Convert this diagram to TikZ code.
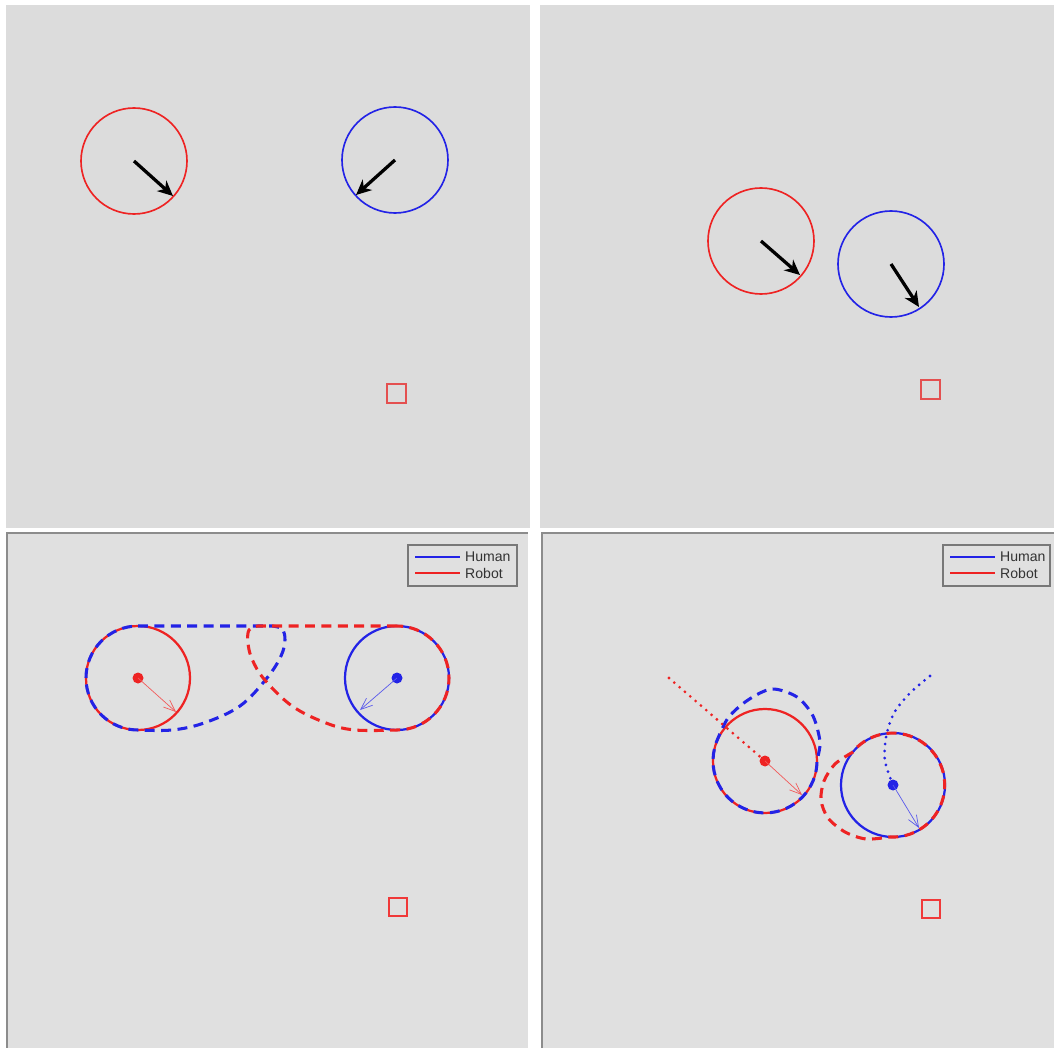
\documentclass[tikz,border=0pt]{standalone}
\usepackage{fontspec}
\setmainfont{Liberation Sans}
\usepackage{xcolor}
\definecolor{simbg}{RGB}{220,220,220}
\definecolor{plotbg}{RGB}{224,224,224}
\definecolor{framegray}{RGB}{140,140,140}
\definecolor{legendgray}{RGB}{120,120,120}
\definecolor{humanblue}{RGB}{35,35,230}
\definecolor{robotred}{RGB}{238,35,35}
\definecolor{goalred}{RGB}{228,80,80}
\usetikzlibrary{arrows.meta,positioning}

\tikzset{
  agent/.style={line width=1.4pt},
  agentbold/.style={line width=1.9pt},
  heading/.style={black, line width=2.8pt, -{Stealth[length=13pt,width=12pt,inset=4pt]}},
  velocity/.style={line width=0.6pt, -{Straight Barb[length=10pt,width=8pt]}},
  reach/.style={line width=2.6pt, dash pattern=on 8.5pt off 5.5pt},
  pathdots/.style={line width=2.6pt, line cap=round, dash pattern=on 0pt off 6pt},
  goal/.style={goalred, line width=1.7pt},
  legendbox/.style={draw=legendgray, line width=1.1pt},
  legendtext/.style={right, inner sep=0pt, font=\fontsize{12}{14}\selectfont, text=black!80}
}

\begin{document}
\begin{tikzpicture}[x=0.03cm, y=-0.03cm]
    \useasboundingbox (0,0) rectangle (1054,1048);
    \fill[white] (0,0) rectangle (1054,1048);

    % Panel backgrounds
    \fill[simbg] (6,5) rectangle (530,528);
    \fill[simbg] (540,5) rectangle (1054,528);
    \fill[plotbg] (6,532) rectangle (528,1048);
    \fill[plotbg] (541,532) rectangle (1054,1048);
    \draw[framegray, line width=1.8pt] (7,1048) -- (7,533) -- (528,533);
    \draw[framegray, line width=1.8pt] (542,1048) -- (542,533) -- (1054,533);

    % Top left: start positions
    \coordinate (ra) at (134,161);
    \coordinate (ha) at (395,160);
    \draw[agent, robotred] (ra) circle (53);
    \draw[agent, humanblue] (ha) circle (53);
    \coordinate (rahead) at (173,196);
    \coordinate (hahead) at (356,195);
    \draw[heading] (ra) -- (rahead);
    \draw[heading] (ha) -- (hahead);
    \draw[goal] (387,384) rectangle (406,403);

    % Top right: later positions
    \coordinate (rb) at (761,241);
    \coordinate (hb) at (891,264);
    \draw[agent, robotred] (rb) circle (53);
    \draw[agent, humanblue] (hb) circle (53);
    \coordinate (rbhead) at (800,275);
    \coordinate (hbhead) at (919,307);
    \draw[heading] (rb) -- (rbhead);
    \draw[heading] (hb) -- (hbhead);
    \draw[goal] (921,380) rectangle (940,399);

    % Bottom left: reachable sets
    \coordinate (rc) at (138,678);
    \coordinate (hc) at (397,678);
    \draw[agentbold, robotred] (rc) circle (52);
    \draw[agentbold, humanblue] (hc) circle (52);
    \draw[reach, humanblue] (138,626) -- plot[smooth, tension=0.6] coordinates {
        (272,626) (282,629) (285,640) (281,656) (267,678) (240,706) (204,723) (172,730) (138,730)}
        arc (90:270:52);
    \draw[reach, robotred] (397,626) -- plot[smooth, tension=0.6] coordinates {
        (258,626) (249,630) (248,643) (252,659) (264,679) (292,706) (326,723) (355,730) (397,730)}
        arc (90:-90:52);
    \fill[robotred] (rc) circle (5.5);
    \fill[humanblue] (hc) circle (5.5);
    \coordinate (rchead) at (176,712);
    \coordinate (hchead) at (360,710);
    \draw[velocity, robotred!75!white] (rc) -- (rchead);
    \draw[velocity, humanblue!75!white] (hc) -- (hchead);
    \draw[goal, robotred!90!white, line width=1.3pt] (389,898) rectangle (407,916);

    % Bottom left: legend
    \draw[legendbox] (408,545) rectangle (517,586);
    \draw[humanblue, line width=2pt] (415,557) -- (460,557);
    \draw[robotred, line width=2pt] (415,573) -- (460,573);
    \node[legendtext] (humanl) at (465,557) {Human};
    \node[legendtext] (robotl) at (465,573) {Robot};

    % Bottom right: predicted paths
    \coordinate (rd) at (765,761);
    \coordinate (hd) at (893,785);
    \coordinate (rdstart) at (669,678);
    \coordinate (hdstart) at (930,676);
    \draw[agentbold, robotred] (rd) circle (52);
    \draw[agentbold, humanblue] (hd) circle (52);
    \draw[reach, humanblue] plot[smooth] coordinates {
        (716,743) (728,718) (748,700) (772,689) (797,697) (813,716) (820,742) (817,760)}
        arc (-1:200:52);
    \draw[reach, robotred] plot[smooth] coordinates {
        (853,752) (835,764) (824,781) (821,800) (828,818) (845,832) (866,839) (890,837)}
        arc (93:-141:52);
    \draw[pathdots, robotred] (rdstart) -- (rd);
    \draw[pathdots, humanblue] plot[smooth] coordinates {
        (930,676) (910,693) (894,713) (886,737) (885,761) (hd)};
    \fill[robotred] (rd) circle (5.5);
    \fill[humanblue] (hd) circle (5.5);
    \coordinate (rdhead) at (802,795);
    \coordinate (hdhead) at (919,828);
    \draw[velocity, robotred!75!white] (rd) -- (rdhead);
    \draw[velocity, humanblue!75!white] (hd) -- (hdhead);
    \draw[goal, robotred!90!white, line width=1.3pt] (922,900) rectangle (940,918);

    % Bottom right: legend
    \draw[legendbox] (943,545) rectangle (1050,586);
    \draw[humanblue, line width=2pt] (950,557) -- (995,557);
    \draw[robotred, line width=2pt] (950,573) -- (995,573);
    \node[legendtext] (humanr) at (1000,557) {Human};
    \node[legendtext] (robotr) at (1000,573) {Robot};
\end{tikzpicture}
\end{document}
